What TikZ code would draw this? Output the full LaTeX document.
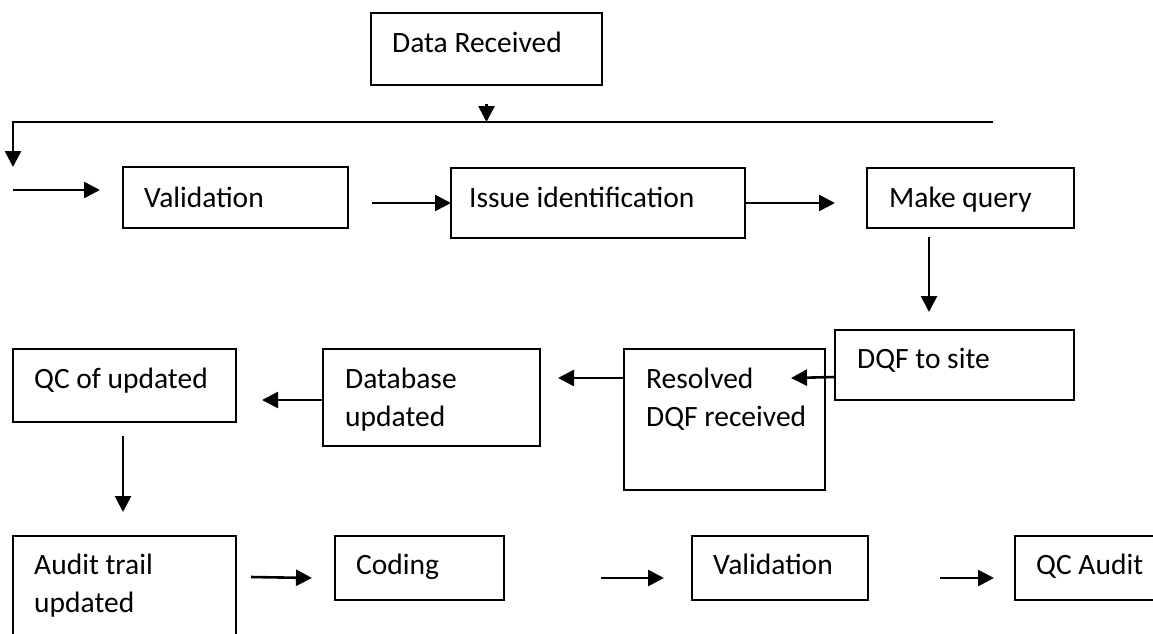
\documentclass[tikz,border=0pt]{standalone}
\usepackage{fontspec}
\setmainfont{Carlito}
\usetikzlibrary{arrows.meta,calc,positioning}

\begin{document}
\begin{tikzpicture}[x=1pt,y=-1pt,
    box/.style={draw, line width=2pt, anchor=north west, inner sep=0pt, outer sep=0pt},
    lbl/.style={anchor=base west, inner sep=0pt, font=\fontsize{29.5}{38}\selectfont},
    arr/.style={line width=2.6pt, -{Triangle[length=16pt,width=16pt]}}]
    \useasboundingbox (0,0) rectangle (1153,633);
    \clip (0,0) rectangle (1153,633);

    % Boxes of the flow
    \node[box, minimum width=231pt, minimum height=72pt] (recv) at (371,13) {};
    \node[box, minimum width=225pt, minimum height=61pt] (valid1) at (123,167) {};
    \node[box, minimum width=294pt, minimum height=70pt] (issue) at (451,168) {};
    \node[box, minimum width=207pt, minimum height=60pt] (query) at (867,168) {};
    \node[box, minimum width=239pt, minimum height=70pt] (dqf) at (835,330) {};
    \node[box, minimum width=201pt, minimum height=141pt] (resolved) at (624,349) {};
    \node[box, minimum width=217pt, minimum height=97pt] (db) at (323,349) {};
    \node[box, minimum width=223pt, minimum height=73pt] (qcu) at (13,349) {};
    \node[box, minimum width=223pt, minimum height=120pt] (audit) at (13,536) {};
    \node[box, minimum width=169pt, minimum height=64pt] (coding) at (335,536) {};
    \node[box, minimum width=176pt, minimum height=64pt] (valid2) at (692,536) {};
    \node[box, minimum width=165pt, minimum height=64pt] (qca) at (1015,536) {};

    % Texts
    \node[lbl] (recvt) at (392,52) {Data Received};
    \node[lbl] (valid1t) at (144,207) {Validation};
    \node[lbl] (issuet) at (469,207) {Issue identification};
    \node[lbl] (queryt) at (889,207) {Make query};
    \node[lbl] (dqft) at (857,368) {DQF to site};
    \node[lbl] (resolvedt) at (646,388) {\begin{tabular}[t]{@{}l@{}}Resolved\\DQF received\end{tabular}};
    \node[lbl] (dbt) at (345,388) {\begin{tabular}[t]{@{}l@{}}Database\\updated\end{tabular}};
    \node[lbl] (qcut) at (34,388) {QC of updated};
    \node[lbl] (auditt) at (34,574) {\begin{tabular}[t]{@{}l@{}}Audit trail\\updated\end{tabular}};
    \node[lbl] (codingt) at (356,574) {Coding};
    \node[lbl] (valid2t) at (713,574) {Validation};
    \node[lbl] (qcat) at (1036,574) {QC Audit};

    % Bus line and entry
    \coordinate (busR) at (993,122);
    \coordinate (busL) at (13,122);
    \coordinate (entry) at (13,190);
    \draw[arr] ($(recv.south)+(0,19)$) -- (recv.south |- busL);
    \draw[arr] (busR) -- (busL) -- (busL |- valid1.north);
    \draw[arr] (entry) -- ($(entry -| valid1.west)+(-23,0)$);

    % Row 1
    \draw[arr] ($(valid1.east |- issue.west)+(24,0)$) -- (issue.west);
    \draw[arr] (issue.east) -- ($(query.west |- issue.east)+(-32,0)$);
    \draw[arr] ($(query.south)+(-41.5,9)$) -- ($(dqf.north -| query.south)+(-41.5,-18)$);

    % Row 2
    \draw[arr] ($(dqf.west)+(0,12)$) -- ($(resolved.east)+(-34,-41.5)$);
    \draw[arr] ($(resolved.west)+(0,-41.5)$) -- ($(db.east |- resolved.west)+(18,-41.5)$);
    \draw[arr] ($(db.west)+(0,2.5)$) -- ($(qcu.east |- db.west)+(26,2.5)$);
    \draw[arr] ($(qcu.south)+(-1.5,14)$) -- ($(audit.north)+(-1.5,-24)$);

    % Row 3
    \draw[arr] ($(audit.east |- coding.west)+(15,9)$) -- ($(coding.west)+(-23,10)$);
    \draw[arr] ($(coding.east)+(97,10)$) -- ($(valid2.west)+(-28,10)$);
    \draw[arr] ($(valid2.east)+(72,10)$) -- ($(qca.west)+(-21,10)$);
\end{tikzpicture}
\end{document}
